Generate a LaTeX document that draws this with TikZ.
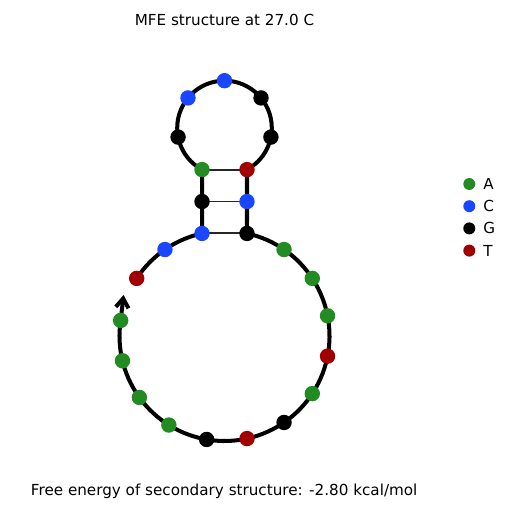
\documentclass[tikz,border=0pt]{standalone}
\usepackage{fontspec}
\setmainfont{DejaVu Sans}
\usetikzlibrary{arrows.meta,calc,backgrounds}
\definecolor{BaseA}{HTML}{228B22}
\definecolor{BaseC}{HTML}{1A46FF}
\definecolor{BaseG}{HTML}{000000}
\definecolor{BaseT}{HTML}{A00000}
\tikzset{
  base/.style={circle,fill=Base#1,inner sep=0pt,minimum size=.385cm},
  key/.style={circle,fill=Base#1,inner sep=0pt,minimum size=.3cm},
  keytext/.style={anchor=west,inner sep=0pt,font=\fontsize{10.8}{12}\selectfont},
  backbone/.style={draw=black,line width=2.85pt},
  pairline/.style={draw=black!85,line width=1.35pt},
  caption/.style={anchor=base,inner sep=0pt,font=\fontsize{10.8}{13}\selectfont}
}
\begin{document}
\begin{tikzpicture}[x=.025cm,y=.025cm]
  \useasboundingbox (0,0) rectangle (512,512);
  \coordinate (outer) at (224.5,176);
  \coordinate (hairpin) at (224.5,384);
  % exterior loop
  \foreach \n/\a/\nuc in {1/146.73/T,2/124.55/C,3/102.37/C,13/77.63/G,14/55.45/A,15/33.27/A,16/11.09/A,17/-11.09/T,18/-33.27/A,19/-55.45/G,20/-77.63/T,21/-99.81/G,22/-121.99/A,23/-144.17/A,24/-166.35/A,25/-188.53/A}
    \node[base=\nuc] (n\n) at ([shift={(\a:105)}]outer) {};
  % hairpin loop
  \foreach \n/\a/\nuc in {5/-118.4/A,6/-168.93/G,7/140.53/C,8/90/C,9/39.47/G,10/-11.07/G,11/-61.6/T}
    \node[base=\nuc] (n\n) at ([shift={(\a:47.3)}]hairpin) {};
  \node[base=G] (n4) at ($(n3)!.5!(n5)$) {};
  \node[base=C] (n12) at ($(n13)!.5!(n11)$) {};
  \coordinate (tip) at (123.6,217);
  \begin{scope}[on background layer]
    \draw[backbone] (n1.center) arc[start angle=146.73,end angle=102.37,radius=105];
    \draw[backbone] (n3.center) -- (n4.center) -- (n5.center);
    \draw[backbone] (n5.center) arc[start angle=-118.4,end angle=-421.6,radius=47.3];
    \draw[backbone] (n11.center) -- (n12.center) -- (n13.center);
    \draw[backbone] (n13.center) arc[start angle=77.63,end angle=-188.53,radius=105];
    \draw[backbone,-{Straight Barb[length=2.3mm,width=3.2mm]}] (n25.center) -- (tip);
    \draw[pairline] (n3.center) -- (n13.center);
    \draw[pairline] (n4.center) -- (n12.center);
    \draw[pairline] (n5.center) -- (n11.center);
  \end{scope}
  % legend
  \foreach \nuc [count=\k from 0] in {A,C,G,T}{
    \node[key=\nuc] (key\nuc) at (469.3,328-22.2*\k) {};
    \node[keytext] (lab\nuc) at (483,328-22.2*\k) {\nuc};
  }
  \node[caption] (title) at (224.5,486) {MFE structure at 27.0 C};
  \node[caption] (energy) at (224.2,16) {Free energy of secondary structure: -2.80 kcal/mol};
\end{tikzpicture}
\end{document}
